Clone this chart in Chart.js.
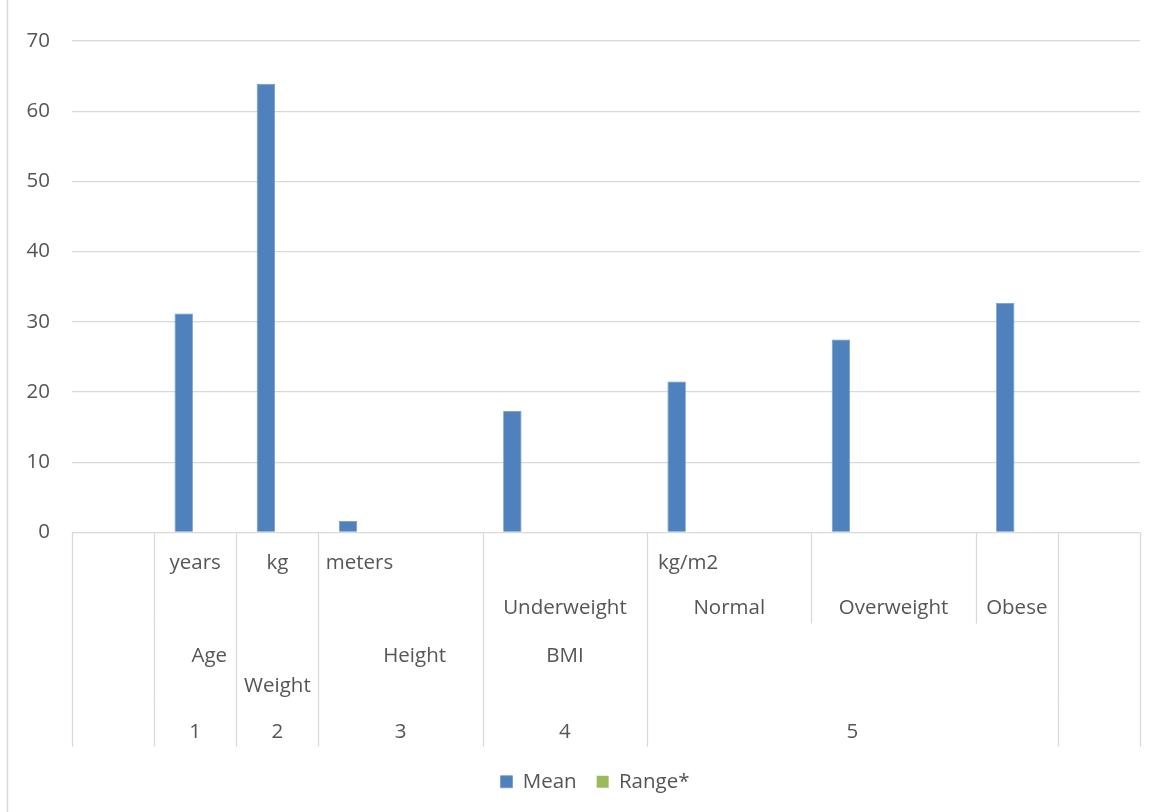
<!DOCTYPE html>
<html>
<head>
<meta charset="utf-8">
<script src="https://cdn.jsdelivr.net/npm/chart.js@4/dist/chart.umd.min.js"></script>
<style>
  html, body { margin: 0; padding: 0; background: #ffffff; }
  #wrap { width: 1157px; height: 812px; position: relative; }
</style>
</head>
<body>
<div id="wrap"><canvas id="c" width="1157" height="812"></canvas></div>
<script>
// Thirteen category slots on the x axis (first and last are empty spacers)
const categories = ['', 'Age', 'Weight', 'Height', '', 'Underweight', '', 'Normal', '', 'Overweight', '', 'Obese', ''];

// Series values
const meanValues  = [null, 31.2, 63.9, 1.65, null, 17.3, null, 21.5, null, 27.5, null, 32.7, null];
const rangeValues = [null, null, null, null, null, null, null, null, null, null, null, null, null];

// Value axis ticks
const yTicks = [0, 10, 20, 30, 40, 50, 60, 70];

// Hierarchical category labels: [first slot, last slot, lines of text]
const unitGroups = [
  [0, 0, []],
  [1, 1, ['years']],
  [2, 2, ['kg']],
  [3, 4, ['meters']],
  [5, 6, ['', 'Underweight']],
  [7, 8, ['kg/m2', 'Normal']],
  [9, 10, ['', 'Overweight']],
  [11, 11, ['', 'Obese']],
  [12, 12, []]
];
const measureGroups = [
  [0, 0, []],
  [1, 1, ['Age']],
  [2, 2, ['', 'Weight']],
  [3, 4, ['Height']],
  [5, 6, ['BMI']],
  [7, 11, []],
  [12, 12, []]
];
const indexGroups = [
  [0, 0, []],
  [1, 1, ['1']],
  [2, 2, ['2']],
  [3, 4, ['3']],
  [5, 6, ['4']],
  [7, 11, ['5']],
  [12, 12, []]
];

const FONT = '"Open Sans", "Noto Sans", sans-serif';
const FONT_SIZE = 20.5;
const TEXT_COLOR = '#555555';
const LINE_COLOR = '#d9d9d9';

// Draws the multi-level category axis below the plot area
const categoryAxisPlugin = {
  id: 'categoryAxis',
  afterDraw(chart) {
    const ctx = chart.ctx;
    const xs = chart.scales.x;
    const n = categories.length;
    const slot = (xs.right - xs.left) / n;
    const edge = i => xs.left + i * slot;
    const base = chart.chartArea.bottom;

    const rows = [
      { groups: unitGroups,    y0: base,       y1: base + 91,  lineY: [base + 31, base + 76], firstLineOnFirstSlot: true },
      { groups: measureGroups, y0: base + 91,  y1: base + 169, lineY: [base + 124, base + 154] },
      { groups: indexGroups,   y0: base + 169, y1: base + 214, lineY: [base + 200] }
    ];
    const nudge = { 'Age': 14, 'Height': 14 };

    ctx.save();
    ctx.strokeStyle = LINE_COLOR;
    ctx.lineWidth = 1.3;
    rows.forEach(row => {
      const edges = new Set();
      row.groups.forEach(g => { edges.add(g[0]); edges.add(g[1] + 1); });
      edges.forEach(e => {
        const px = Math.round(edge(e)) + 0.5;
        ctx.beginPath();
        ctx.moveTo(px, row.y0);
        ctx.lineTo(px, row.y1);
        ctx.stroke();
      });
    });

    ctx.fillStyle = TEXT_COLOR;
    ctx.font = FONT_SIZE + 'px ' + FONT;
    ctx.textAlign = 'center';
    ctx.textBaseline = 'middle';
    rows.forEach(row => {
      row.groups.forEach(g => {
        const [from, to, lines] = g;
        lines.forEach((txt, li) => {
          if (!txt) return;
          let cx = (edge(from) + edge(to + 1)) / 2;
          if (row.firstLineOnFirstSlot && li === 0) cx = (edge(from) + edge(from + 1)) / 2;
          cx += nudge[txt] || 0;
          ctx.fillText(txt, cx, row.lineY[li]);
        });
      });
    });
    ctx.restore();
  }
};

// White background and light chart border on the left edge
const framePlugin = {
  id: 'frame',
  afterLayout(chart) {
    // legend sits slightly right of the canvas centre
    const lg = chart.legend;
    if (lg) { lg.left += 25; lg.right += 25; }
  },
  beforeDraw(chart) {
    const ctx = chart.ctx;
    ctx.save();
    ctx.fillStyle = '#ffffff';
    ctx.fillRect(0, 0, chart.width, chart.height);
    ctx.strokeStyle = LINE_COLOR;
    ctx.lineWidth = 1.5;
    ctx.beginPath();
    ctx.moveTo(7.5, 0);
    ctx.lineTo(7.5, chart.height);
    ctx.stroke();
    ctx.restore();
  }
};

new Chart(document.getElementById('c'), {
  type: 'bar',
  data: {
    labels: categories,
    datasets: [
      {
        label: 'Mean',
        data: meanValues,
        backgroundColor: '#4f81bd',
        borderColor: '#6f97c9',
        borderWidth: 0.8,
        categoryPercentage: 0.56,
        barPercentage: 0.8
      },
      {
        label: 'Range*',
        data: rangeValues,
        backgroundColor: '#9bbb59',
        borderWidth: 0,
        categoryPercentage: 0.56,
        barPercentage: 0.8
      }
    ]
  },
  options: {
    responsive: false,
    animation: false,
    devicePixelRatio: 1,
    layout: { padding: { top: 41, right: 17, bottom: 10, left: 0 } },
    scales: {
      x: {
        grid: { display: false },
        border: { display: false },
        ticks: { display: false },
        afterFit(scale) { scale.height = 219; }
      },
      y: {
        min: 0,
        max: 70,
        afterBuildTicks(scale) { scale.ticks = yTicks.map(v => ({ value: v })); },
        ticks: {
          color: TEXT_COLOR,
          font: { family: FONT, size: FONT_SIZE },
          padding: 22
        },
        grid: { color: LINE_COLOR, lineWidth: 1.3, drawTicks: false },
        border: { display: false },
        afterFit(scale) { scale.width = 72; }
      }
    },
    plugins: {
      legend: {
        position: 'bottom',
        labels: {
          boxWidth: 12,
          boxHeight: 12,
          padding: 20,
          color: TEXT_COLOR,
          font: { family: FONT, size: FONT_SIZE }
        }
      },
      tooltip: { enabled: false }
    }
  },
  plugins: [framePlugin, categoryAxisPlugin]
});
</script>
</body>
</html>
